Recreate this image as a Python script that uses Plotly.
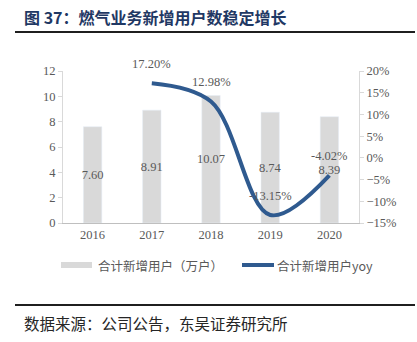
import plotly.graph_objects as go

years = ["2016", "2017", "2018", "2019", "2020"]
new_users = [7.60, 8.91, 10.07, 8.74, 8.39]
yoy_years = ["2017", "2018", "2019", "2020"]
yoy = [17.20, 12.98, -13.15, -4.02]

W, H = 417, 342
L, R, T, B = 63, 359, 71, 223  # plot area in px

def px(x):
    return (x - L) / (R - L)

def py(y):
    return (B - y) / (B - T)

num_font = "Liberation Serif, Noto Sans CJK SC"
cjk_font = "Noto Sans CJK SC"
gray = "#595959"
blue = "#2F5A8F"

fig = go.Figure()
fig.add_trace(go.Bar(
    x=years, y=new_users, marker_color="#D9D9D9", width=0.31,
    text=[f"{v:.2f}" for v in new_users], textposition="inside", textangle=0,
    constraintext="none", insidetextanchor="middle",
    textfont=dict(family=num_font, size=12.5, color=gray),
    showlegend=False, cliponaxis=False,
))
fig.add_trace(go.Scatter(
    x=yoy_years, y=yoy, yaxis="y2", mode="lines",
    line=dict(color=blue, width=4, shape="spline", smoothing=1.0),
    showlegend=False, cliponaxis=False,
))

fig.update_layout(
    width=W, height=H, margin=dict(l=L, r=W - R, t=T, b=H - B),
    paper_bgcolor="white", plot_bgcolor="white",
    xaxis=dict(type="category", range=[-0.5, len(years) - 0.5], showline=True,
               linecolor="#BFBFBF", linewidth=1, ticks="",
               tickfont=dict(family=num_font, size=12.5, color=gray), showgrid=False),
    yaxis=dict(range=[0, 12], dtick=2, showline=True, linecolor="#D9D9D9",
               ticks="outside", ticklen=4, tickcolor="#D9D9D9", showgrid=False,
               zeroline=False, tickfont=dict(family=num_font, size=12.5, color=gray)),
    yaxis2=dict(range=[-15, 20], dtick=5, overlaying="y", side="right",
                showline=True, linecolor="#D9D9D9", ticks="outside", ticklen=4,
                tickcolor="#D9D9D9", showgrid=False, zeroline=False, ticksuffix="%",
                tickfont=dict(family=num_font, size=12.5, color=gray)),
    bargap=0.69,
)

shapes = [
    dict(type="line", xref="paper", yref="paper", x0=px(15), x1=px(415), y0=py(32), y1=py(32),
         line=dict(color="#1F1F1F", width=2)),
    dict(type="line", xref="paper", yref="paper", x0=px(15), x1=px(415), y0=py(305), y1=py(305),
         line=dict(color="#1F1F1F", width=2)),
    dict(type="rect", xref="paper", yref="paper", x0=px(61), x1=px(92), y0=py(268), y1=py(262),
         fillcolor="#D9D9D9", line=dict(width=0)),
    dict(type="line", xref="paper", yref="paper", x0=px(242), x1=px(274), y0=py(265), y1=py(265),
         line=dict(color=blue, width=4)),
]
fig.update_layout(shapes=shapes)

ann = [
    dict(text="<b>图 37：燃气业务新增用户数稳定增长</b>", x=px(22), y=py(17), xanchor="left",
         yanchor="middle", font=dict(family=cjk_font, size=16, color="#1F3864")),
    dict(text="数据来源：公司公告，东吴证券研究所", x=px(22), y=py(323), xanchor="left",
         yanchor="middle", font=dict(family=cjk_font, size=15.5, color="#262626")),
    dict(text="合计新增用户（万户）", x=px(96), y=py(265), xanchor="left", yanchor="middle",
         font=dict(family=cjk_font, size=12.5, color=gray)),
    dict(text="合计新增用户yoy", x=px(275), y=py(265), xanchor="left", yanchor="middle",
         font=dict(family=cjk_font, size=12.5, color=gray)),
]
for a in ann:
    a.update(xref="paper", yref="paper", showarrow=False)
for xv, yv in zip(yoy_years, yoy):
    ann.append(dict(x=years.index(xv), y=yv, xref="x", yref="y2", text=f"{yv:.2f}%",
                    showarrow=False, yshift=19,
                    font=dict(family=num_font, size=12.5, color=gray)))
fig.update_layout(annotations=ann)

fig.write_html("out.html")
